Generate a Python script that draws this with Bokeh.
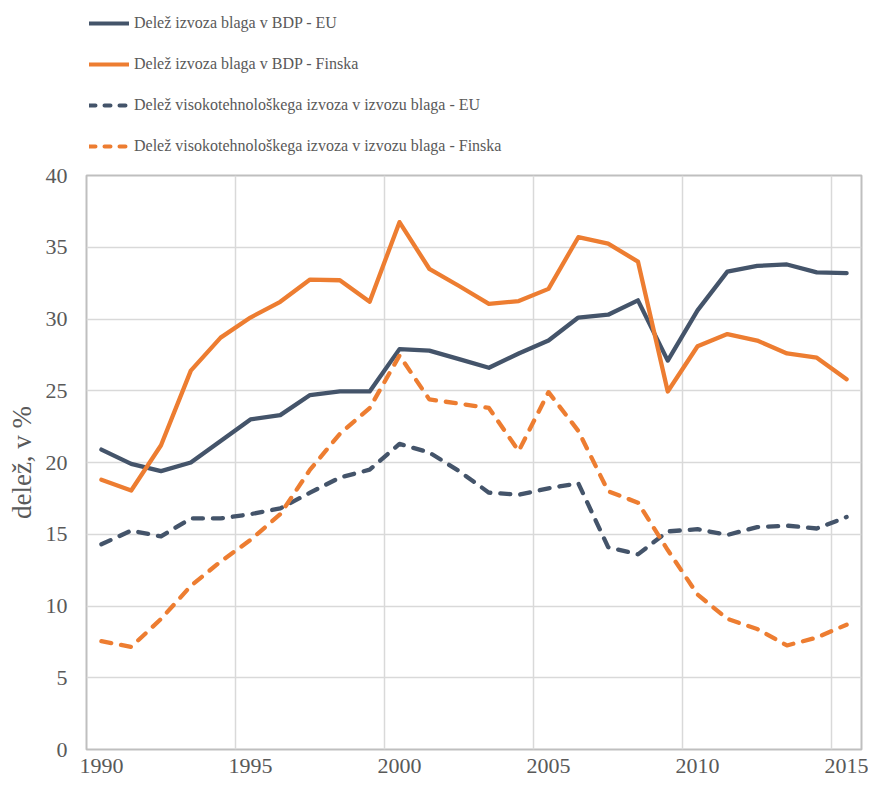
from bokeh.plotting import figure
from bokeh.layouts import column
from bokeh.models import ColumnDataSource, FixedTicker, CustomJSTickFormatter, Legend, LegendItem
from bokeh.transform import dodge
from bokeh.embed import file_html
from bokeh.resources import INLINE

years = list(range(1990, 2016))
eu_goods_gdp = [20.9, 19.9, 19.4, 20.0, 21.5, 23.0, 23.3, 24.7, 24.95, 24.95,
                27.9, 27.8, 27.2, 26.6, 27.6, 28.5, 30.1, 30.3, 31.3, 27.1,
                30.6, 33.3, 33.7, 33.8, 33.25, 33.2]
fi_goods_gdp = [18.8, 18.05, 21.2, 26.4, 28.7, 30.1, 31.2, 32.75, 32.7, 31.2,
                36.75, 33.5, 32.3, 31.05, 31.25, 32.1, 35.7, 35.25, 34.0, 24.95,
                28.1, 28.95, 28.5, 27.6, 27.3, 25.8]
eu_hightech = [14.3, 15.25, 14.85, 16.1, 16.1, 16.4, 16.8, 17.9, 18.95, 19.5,
               21.3, 20.7, 19.4, 17.9, 17.75, 18.2, 18.55, 14.1, 13.6, 15.2,
               15.35, 14.95, 15.5, 15.6, 15.4, 16.2]
fi_hightech = [7.55, 7.15, 9.1, 11.4, 13.1, 14.6, 16.4, 19.5, 22.0, 23.8,
               27.45, 24.4, 24.1, 23.8, 20.8, 24.9, 22.2, 18.0, 17.2, 13.9,
               10.8, 9.1, 8.4, 7.25, 7.8, 8.7]
tick_years = [1990, 1995, 2000, 2005, 2010, 2015]
series_labels = [
    "Delež izvoza blaga v BDP - EU",
    "Delež izvoza blaga v BDP - Finska",
    "Delež visokotehnološkega izvoza v izvozu blaga - EU",
    "Delež visokotehnološkega izvoza v izvozu blaga - Finska",
]
y_label = "delež, v %"

NAVY = "#44546A"
ORANGE = "#ED7D31"
TEXT = "#595959"
FONT = "Liberation Serif"
DASH = "10 10"
LEGEND_DASH = "6 9"

src = ColumnDataSource(dict(year=years, eu_g=eu_goods_gdp, fi_g=fi_goods_gdp,
                            eu_h=eu_hightech, fi_h=fi_hightech))
specs = [("eu_g", NAVY, "solid", "solid"), ("fi_g", ORANGE, "solid", "solid"),
         ("eu_h", NAVY, DASH, LEGEND_DASH), ("fi_h", ORANGE, DASH, LEGEND_DASH)]
xs = dodge("year", 0.5)

# ---- legend strip (top); its lines lie outside its empty view range ----
lp = figure(width=868, height=160, output_backend="svg", toolbar_location=None,
            x_axis_type=None, y_axis_type=None, min_border=0,
            x_range=(0, 1), y_range=(0, 1))
lp.outline_line_color = None
lp.xgrid.visible = False
lp.ygrid.visible = False
leg_renderers = []
for col, color, dash, ldash in specs:
    r = lp.line(x=xs, y=col, source=src, line_color=color, line_width=4,
                line_dash=ldash, line_cap="round", line_join="round")
    leg_renderers.append(r)
legend = Legend(items=[LegendItem(label=lab, renderers=[r]) for lab, r in zip(series_labels, leg_renderers)],
                location=(3, 4), orientation="vertical",
                label_text_font=FONT, label_text_font_size="16px", label_text_color=TEXT,
                glyph_width=40, glyph_height=20, label_height=20, spacing=21,
                label_standoff=5, padding=0, margin=0,
                border_line_color=None, background_fill_alpha=0)
lp.add_layout(legend)

# ---- main chart ----
p = figure(width=868, height=625, x_range=(1990, 2016), y_range=(0, 40),
           output_backend="svg", toolbar_location=None,
           min_border_left=86, min_border_right=7, min_border_top=15,
           min_border_bottom=36)

for col, color, dash, ldash in specs:
    p.line(x=xs, y=col, source=src, line_color=color, line_width=4.3,
           line_dash=dash, line_cap="round", line_join="round")

p.outline_line_color = "#BFBFBF"
p.outline_line_width = 2

p.xgrid.ticker = FixedTicker(ticks=tick_years)
p.xaxis.ticker = FixedTicker(ticks=[y + 0.5 for y in tick_years])
p.xaxis.formatter = CustomJSTickFormatter(code="return Math.floor(tick).toString();")
p.yaxis.ticker = FixedTicker(ticks=[0, 5, 10, 15, 20, 25, 30, 35, 40])
for g in (p.xgrid, p.ygrid):
    g.grid_line_color = "#D9D9D9"
    g.grid_line_width = 1.5

for ax in (p.xaxis, p.yaxis):
    ax.axis_line_color = None
    ax.major_tick_line_color = None
    ax.minor_tick_line_color = None
    ax.major_tick_out = 0
    ax.major_tick_in = 0
    ax.minor_tick_out = 0
    ax.minor_tick_in = 0
    ax.major_label_text_font = FONT
    ax.major_label_text_font_size = "22px"
    ax.major_label_text_color = TEXT

p.xaxis.major_label_standoff = 9
p.yaxis.major_label_standoff = 19
p.yaxis.axis_label = y_label
p.yaxis.axis_label_text_font = FONT
p.yaxis.axis_label_text_font_style = "normal"
p.yaxis.axis_label_text_font_size = "27px"
p.yaxis.axis_label_text_color = TEXT
p.yaxis.axis_label_standoff = 6

open("out.html", "w").write(file_html(column(lp, p, spacing=0), INLINE))
